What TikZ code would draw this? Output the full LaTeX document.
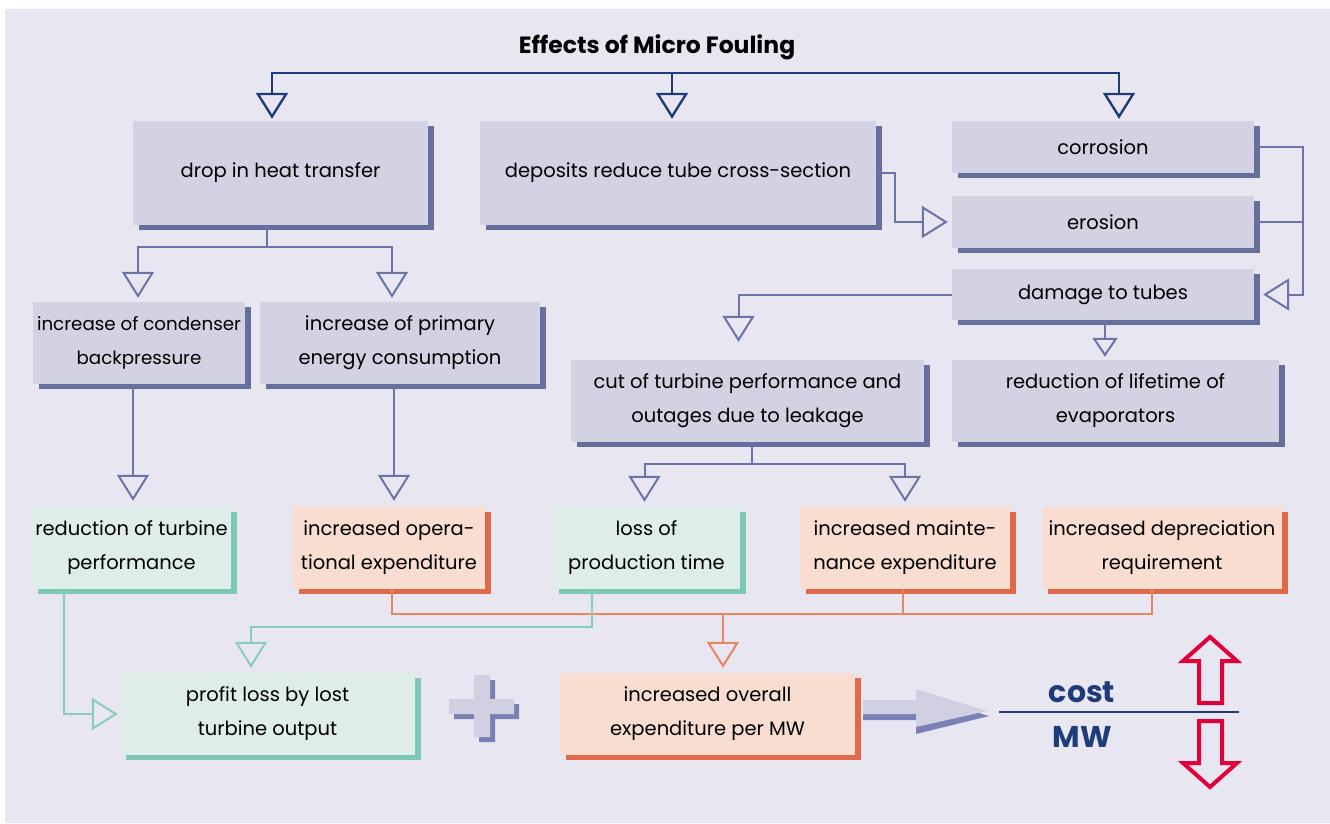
\documentclass[tikz,border=0pt]{standalone}
\usepackage{fontspec}
\setmainfont{Poppins}
\usetikzlibrary{arrows.meta,shadows}

\definecolor{bgpanel}{HTML}{E8E7F1}
\definecolor{boxgrey}{HTML}{D2D2E2}
\definecolor{shdgrey}{HTML}{666E9C}
\definecolor{slate}{HTML}{6B73A8}
\definecolor{navy}{HTML}{1F3C7A}
\definecolor{greenfill}{HTML}{DFEDEA}
\definecolor{greenshd}{HTML}{7DC8B5}
\definecolor{greenline}{HTML}{86CDBB}
\definecolor{orangefill}{HTML}{F9DDD0}
\definecolor{orangeshd}{HTML}{DF6949}
\definecolor{orangeline}{HTML}{E98462}
\definecolor{costred}{HTML}{E2003A}
\definecolor{pluslight}{HTML}{D0D0E2}
\definecolor{plusdark}{HTML}{7B80B4}

\newcommand{\boxfont}{\fontsize{19.5}{34}\selectfont}
\newcommand{\titlefont}{\fontsize{23.5}{26}\selectfont\bfseries}
\newcommand{\costfont}{\fontsize{30}{32}\selectfont\bfseries}

\tikzstyle{greybox} = [rectangle, inner sep=0pt, align=center, font=\boxfont, fill=boxgrey, drop shadow={shadow xshift=6pt, shadow yshift=-5pt, fill=shdgrey, opacity=1}]
\tikzstyle{greenbox} = [greybox, fill=greenfill, drop shadow={shadow xshift=6pt, shadow yshift=-5pt, fill=greenshd, opacity=1}]
\tikzstyle{orangebox} = [greybox, fill=orangefill, drop shadow={shadow xshift=6pt, shadow yshift=-5pt, fill=orangeshd, opacity=1}]
\tikzstyle{topline} = [line width=2.4pt, draw=navy, -{Triangle[open, length=26pt, width=32pt]}, shorten >=2pt]
\tikzstyle{line} = [line width=2pt, draw=slate]
\tikzstyle{arrow} = [line, -{Triangle[open, length=26pt, width=32pt]}]
\tikzstyle{smallarrow} = [line, -{Triangle[open, length=19pt, width=25pt]}]
\tikzstyle{gline} = [line width=2pt, draw=greenline]
\tikzstyle{garrow} = [gline, -{Triangle[open, length=26pt, width=32pt]}]
\tikzstyle{oline} = [line width=2pt, draw=orangeline]
\tikzstyle{oarrow} = [oline, -{Triangle[open, length=26pt, width=32pt]}]
\tikzstyle{costtxt} = [inner sep=0pt, font=\costfont, text=navy]

\begin{document}
\begin{tikzpicture}[x=1pt, y=-1pt]
\useasboundingbox (0,0) rectangle (1330,823);
\fill[bgpanel] (5,9) rectangle (1330,823);

\node (title) at (657,47) [font=\titlefont] {Effects of Micro Fouling};
\coordinate (topbar) at (672,73);

% grey boxes
\node (heat) [greybox, minimum width=295pt, minimum height=104pt] at (280.5,173) {drop in heat transfer};
\node (depo) [greybox, minimum width=396pt, minimum height=104pt] at (678,173) {deposits reduce tube cross-section};
\node (corr) [greybox, minimum width=302pt, minimum height=52pt] at (1103,147) {corrosion};
\node (eros) [greybox, minimum width=302pt, minimum height=52pt] at (1103,222) {erosion};
\node (dmg) [greybox, minimum width=302pt, minimum height=51pt] at (1103,294.5) {damage to tubes};
\node (life) [greybox, minimum width=327pt, minimum height=82pt] at (1115.5,401) {reduction of lifetime of\\evaporators};
\node (cond) [greybox, minimum width=212pt, minimum height=82pt, font=\fontsize{18.3}{34}\selectfont] at (139,343) {increase of condenser\\backpressure};
\node (prim) [greybox, minimum width=280pt, minimum height=82pt] at (400,343) {increase of primary\\energy consumption};
\node (cut) [greybox, minimum width=353pt, minimum height=82pt] at (747.5,401) {cut of turbine performance and\\outages due to leakage};

% cost boxes
\node (red) [greenbox, minimum width=199pt, minimum height=82pt] at (131.5,548) {reduction of turbine\\performance};
\node (opex) [orangebox, minimum width=192pt, minimum height=82pt] at (389,548) {increased opera-\\tional expenditure};
\node (loss) [greenbox, minimum width=187pt, minimum height=82pt] at (646.5,548) {loss of\\production time};
\node (mnt) [orangebox, minimum width=210pt, minimum height=82pt] at (905,548) {increased mainte-\\nance expenditure};
\node (depr) [orangebox, minimum width=240pt, minimum height=82pt] at (1162,548) {increased depreciation\\requirement};
\node (profit) [greenbox, minimum width=295pt, minimum height=82pt] at (267.5,714) {profit loss by lost\\turbine output};
\node (overall) [orangebox, minimum width=295pt, minimum height=82pt] at (707.5,714) {increased overall\\expenditure per MW};

% top level
\draw[topline] (topbar) -| ([xshift=-8.5pt]heat.north);
\draw[topline] (topbar) -- ([xshift=-6pt]depo.north);
\draw[topline] (topbar) -| ([xshift=16pt]corr.north);

% heat transfer branch
\draw[arrow, shorten >=4pt] ([xshift=-13.5pt]heat.south) -- ++(0,22) -| ([xshift=-1pt]cond.north);
\draw[arrow, shorten >=4pt] ([xshift=-13.5pt]heat.south) -- ++(0,22) -| ([xshift=-8pt]prim.north);
\draw[arrow, shorten >=6pt] ([xshift=-6pt]cond.south) -- ([xshift=-6pt]cond.south |- red.north);
\draw[arrow, shorten >=6pt] ([xshift=-6pt]prim.south) -- ([xshift=-6pt]prim.south |- opex.north);

% tube damage branch
\draw[arrow, shorten >=4pt] (depo.east) -- ++(19,0) |- (eros.west);
\draw[line] (eros.east) -- ++(49,0);
\draw[arrow, shorten >=9pt] (corr.east) -- ++(49,0) |- (dmg.east);
\draw[arrow, shorten >=18pt] (dmg.west) -| ([xshift=-9pt]cut.north);
\draw[smallarrow, shorten >=3pt] ([xshift=2pt]dmg.south) -- ([xshift=2pt]dmg.south |- life.north);
\draw[arrow, shorten >=5pt] ([xshift=4.5pt]cut.south) -- ++(0,22) -| ([xshift=-2pt]loss.north);
\draw[arrow, shorten >=5pt] ([xshift=4.5pt]cut.south) -- ++(0,22) -| (mnt.north);

% results
\draw[oline] ([xshift=3pt]opex.south) -- ++(0,25) -| ([xshift=-10pt]depr.south);
\draw[oline] ([xshift=-2pt]mnt.south) -- ++(0,25);
\draw[oarrow, shorten >=5pt] ([xshift=3pt]opex.south) ++(0,25) -| ([xshift=15.5pt]overall.north);
\draw[garrow, shorten >=2pt] ([xshift=-67.5pt]red.south) |- (profit.west);
\draw[garrow, shorten >=5pt] ([xshift=-54.5pt]loss.south) -- ++(0,38) -| ([xshift=-16.5pt]profit.north);

% plus sign
\fill[plusdark] (479,680) rectangle (495,742) (454,704) rectangle (519,719);
\fill[pluslight] (474,675) rectangle (490,737) (449,699) rectangle (514,714);

% grey arrow to cost per MW
\fill[plusdark] (863,706) -- (916,706) -- (916,695) -- (989,716) -- (916,734) -- (916,720) -- (863,720) -- cycle;
\fill[pluslight] (863,700) -- (916,700) -- (916,689) -- (987,711) -- (916,727) -- (916,714) -- (863,714) -- cycle;

\node (cost) [costtxt] at (1082,692) {cost};
\node (mw) [costtxt] at (1082,737) {MW};
\draw[navy, line width=2.5pt] (999,712) -- (1239,712);

% up and down
\draw[costred, line width=4pt, line join=miter] (1210,637) -- (1237,661) -- (1222,661) -- (1222,703) -- (1199,703) -- (1199,661) -- (1183,661) -- cycle;
\draw[costred, line width=4pt, line join=miter] (1210,787) -- (1237,763) -- (1222,763) -- (1222,721) -- (1199,721) -- (1199,763) -- (1183,763) -- cycle;
\end{tikzpicture}
\end{document}
